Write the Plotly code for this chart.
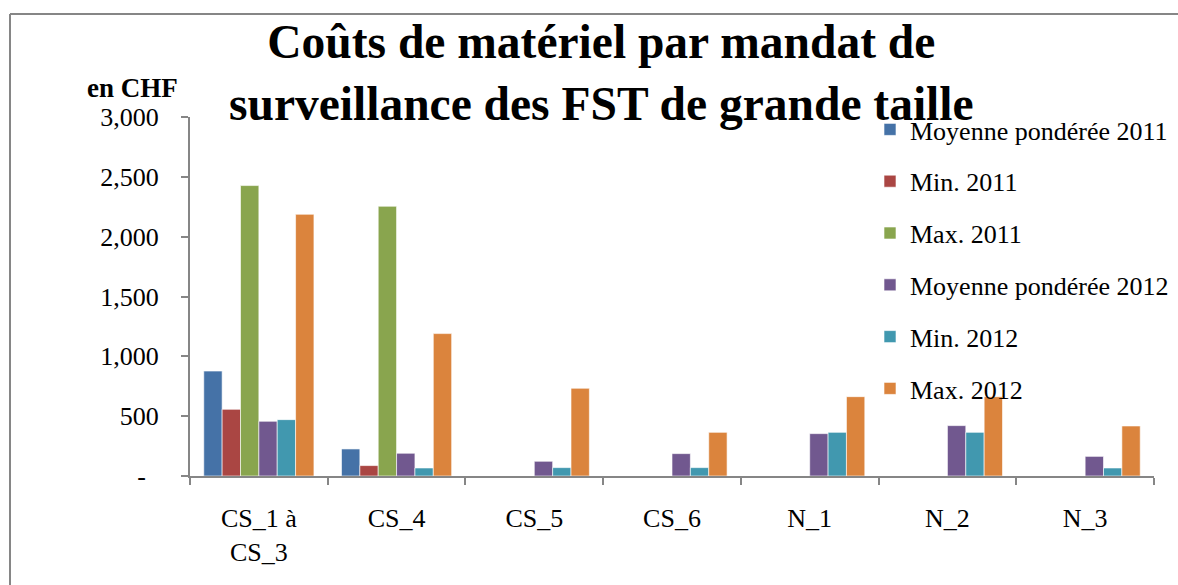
import plotly.graph_objects as go

categories = ["CS_1 à<br>CS_3", "CS_4", "CS_5", "CS_6", "N_1", "N_2", "N_3"]
series_names = ["Moyenne pondérée 2011", "Min. 2011", "Max. 2011",
                "Moyenne pondérée 2012", "Min. 2012", "Max. 2012"]
moy_2011 = [877, 226, None, None, None, None, None]
min_2011 = [557, 87, None, None, None, None, None]
max_2011 = [2427, 2254, None, None, None, None, None]
moy_2012 = [457, 190, 123, 187, 354, 421, 164]
min_2012 = [471, 67, 70, 70, 365, 365, 67]
max_2012 = [2187, 1190, 733, 365, 663, 663, 418]
colors = ["#4572A7", "#AA4643", "#89A54E", "#71588F", "#4198AF", "#DB843D"]
y_tickvals = [0, 500, 1000, 1500, 2000, 2500, 3000]
y_ticktext = ["-\u00a0\u00a0", "500", "1,000", "1,500", "2,000", "2,500", "3,000"]

series_values = [moy_2011, min_2011, max_2011, moy_2012, min_2012, max_2012]

W, H = 1178, 585
ml, mr, mt, mb = 190, 24, 117, 109
pw, ph = W - ml - mr, H - mt - mb


def px_x(x):
    return (x - ml) / pw


def px_y(y):
    return 1 - (y - mt) / ph


fig = go.Figure()
for i, (name, vals) in enumerate(zip(series_names, series_values)):
    fig.add_trace(go.Bar(
        x=categories, y=vals, name=name,
        marker=dict(color=colors[i], line=dict(color="rgba(255,255,255,0.6)", width=1)),
        legendgroup=f"g{i}",
    ))

font_family = "Liberation Serif"

fig.update_layout(
    width=W, height=H,
    margin=dict(l=ml, r=mr, t=mt, b=mb, autoexpand=False),
    paper_bgcolor="white", plot_bgcolor="white",
    barmode="group", bargap=0.2, bargroupgap=0,
    font=dict(family=font_family, color="black", size=26),
    legend=dict(
        x=px_x(870), xanchor="left",
        y=px_y(106), yanchor="top",
        bgcolor="rgba(0,0,0,0)",
        font=dict(family=font_family, size=26, color="black"),
        traceorder="grouped", tracegroupgap=15,
        itemwidth=30, maxheight=450,
    ),
    xaxis=dict(
        showline=True, linecolor="#868686", linewidth=2,
        ticks="outside", tickson="boundaries", ticklen=7, tickcolor="#868686", tickwidth=2,
        tickfont=dict(family=font_family, size=26, color="black"),
        showgrid=False, automargin=False, ticklabelstandoff=18,
    ),
    yaxis=dict(
        range=[0, 3000], tickvals=y_tickvals, ticktext=y_ticktext,
        showline=True, linecolor="#868686", linewidth=2,
        ticks="outside", ticklen=7, tickcolor="#868686", tickwidth=2,
        tickfont=dict(family=font_family, size=26, color="black"),
        showgrid=False, zeroline=False, ticklabelstandoff=17, automargin=False,
    ),
    annotations=[
        dict(
            text="<b>en CHF</b>", xref="paper", yref="paper",
            x=px_x(132), y=px_y(88),
            xanchor="center", yanchor="middle", showarrow=False,
            font=dict(family=font_family, size=27, color="black"),
        ),
        dict(
            text="<b>Coûts de matériel par mandat de<br>surveillance des FST de grande taille</b>",
            xref="paper", yref="paper",
            x=px_x(601), y=px_y(73),
            xanchor="center", yanchor="middle", showarrow=False,
            font=dict(family=font_family, size=47.5, color="black"),
        ),
    ],
)

fig.add_shape(type="line", xref="paper", yref="paper",
              x0=px_x(10), x1=px_x(1180), y0=px_y(14), y1=px_y(14),
              line=dict(color="#868686", width=2))
fig.add_shape(type="line", xref="paper", yref="paper",
              x0=px_x(10), x1=px_x(10), y0=px_y(14), y1=px_y(590),
              line=dict(color="#868686", width=2))

fig.write_html("out.html", post_script="document.body.style.margin='0';",
               config={"displayModeBar": False})
